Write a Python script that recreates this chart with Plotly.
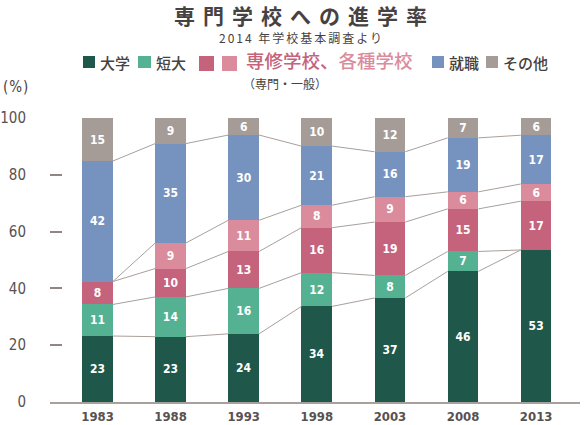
import numpy as np
import plotly.graph_objects as go

# data (percent)
years = ['1983', '1988', '1993', '1998', '2003', '2008', '2013']
daigaku = [23, 23, 24, 34, 37, 46, 53]
tandai = [11, 14, 16, 12, 8, 7, 0]
senmon = [8, 10, 13, 16, 19, 15, 17]
kakushu = [0, 9, 11, 8, 9, 6, 6]
shushoku = [42, 35, 30, 21, 16, 19, 17]
sonota = [15, 9, 6, 10, 12, 7, 6]

series = [daigaku, tandai, senmon, kakushu, shushoku, sonota]
names = ['大学', '短大', '専修学校', '各種学校', '就職', 'その他']
colors = ['#1f584a', '#54b293', '#c4637b', '#da8c9c', '#7692be', '#a59c97']

JP = 'Noto Sans CJK JP'
NUM = 'DejaVu Sans Condensed'
TXT = '#474242'
LINE = '#a8a09b'

vals = np.array(series, dtype=float)
heights = vals * 100 / vals.sum(axis=0)   # each bar fills to 100
cum = np.cumsum(heights, axis=0)
x = np.arange(len(years))
w = 0.42

fig = go.Figure()

# connector lines between segment boundaries
lx, ly = [], []
for k in range(len(series) - 1):
    for i in range(len(years) - 1):
        lx += [x[i] + w / 2, x[i + 1] - w / 2, None]
        ly += [cum[k][i], cum[k][i + 1], None]
fig.add_trace(go.Scatter(x=lx, y=ly, mode='lines', line=dict(color=LINE, width=1),
                         hoverinfo='skip', showlegend=False))

for name, v, h, c in zip(names, series, heights, colors):
    fig.add_trace(go.Bar(
        x=x, y=h, name=name, width=w, marker=dict(color=c, line=dict(width=0)),
        text=[str(t) if t else '' for t in v], textposition='inside',
        insidetextanchor='middle', textangle=0,
        textfont=dict(color='white', size=12, family=NUM, weight='bold'),
        showlegend=False))

fig.update_layout(
    barmode='stack', width=584, height=425,
    margin=dict(l=50, r=4, t=118, b=23),
    plot_bgcolor='white', paper_bgcolor='white',
    font=dict(family=JP, color=TXT),
    uniformtext=dict(minsize=12, mode='show'),
)
fig.update_xaxes(range=[-0.65, 6.6], tickvals=x, ticktext=years, showline=True,
                 linecolor=LINE, linewidth=2, ticks='', showgrid=False, zeroline=False,
                 ticklabelstandoff=1, automargin=False,
                 tickfont=dict(family=NUM, size=13, color='#575151', weight='bold'))
fig.update_yaxes(range=[0, 100], tickvals=[0, 20, 40, 60, 80, 100], ticks='inside',
                 ticklen=12, tickwidth=1.5, tickcolor='#8f8783', showline=False,
                 showgrid=False, zeroline=False, ticklabelstandoff=23, automargin=False,
                 tickfont=dict(family=NUM, size=15, color='#575151'))


# pixel -> paper helpers for the header decorations
def px(v):
    return (v - 50) / 530


def py(v):
    return (402 - v) / 284


boxes = [(83, 95, 56, 68, colors[0]), (138, 151, 56, 68, colors[1]),
         (199, 214, 56, 71, colors[2]), (222, 237, 56, 71, colors[3]),
         (432, 444, 56, 68, colors[4]), (486, 498, 56, 68, colors[5])]
for x0, x1, y0, y1, c in boxes:
    fig.add_shape(type='rect', xref='paper', yref='paper', x0=px(x0), x1=px(x1),
                  y0=py(y1), y1=py(y0), fillcolor=c, line=dict(width=0))


def note(text, x, y, size, xanchor='left', color=TXT, weight='normal', family=JP):
    fig.add_annotation(text=text, xref='paper', yref='paper', x=px(x), y=py(y),
                       xanchor=xanchor, yanchor='middle', showarrow=False,
                       font=dict(size=size, color=color, family=family, weight=weight))


note('<span style="letter-spacing:8px">専門学校への進学率</span>', 304, 15, 21,
     xanchor='center', weight='bold')
note('<span style="letter-spacing:2px">2014 年学校基本調査より</span>', 301, 37, 12,
     xanchor='center')
note('大学', 98, 62, 15, weight=500)
note('短大', 154, 62, 15, weight=500)
note('専修学校、<span style="color:%s">各種学校</span>' % colors[3], 244, 60, 18.5,
     color=colors[2], weight=500)
note('（専門・一般）', 241, 84, 12)
note('就職', 447, 62, 15, weight=500)
note('その他', 501, 62, 15, weight=500)
note('<span style="letter-spacing:1px">(%)</span>', 1, 87, 15, family=NUM)

# drop the page's default body margin so the figure sits at the window's corner
fig.write_html('out.html', config={'displayModeBar': False},
               post_script="document.body.style.margin='0';")
